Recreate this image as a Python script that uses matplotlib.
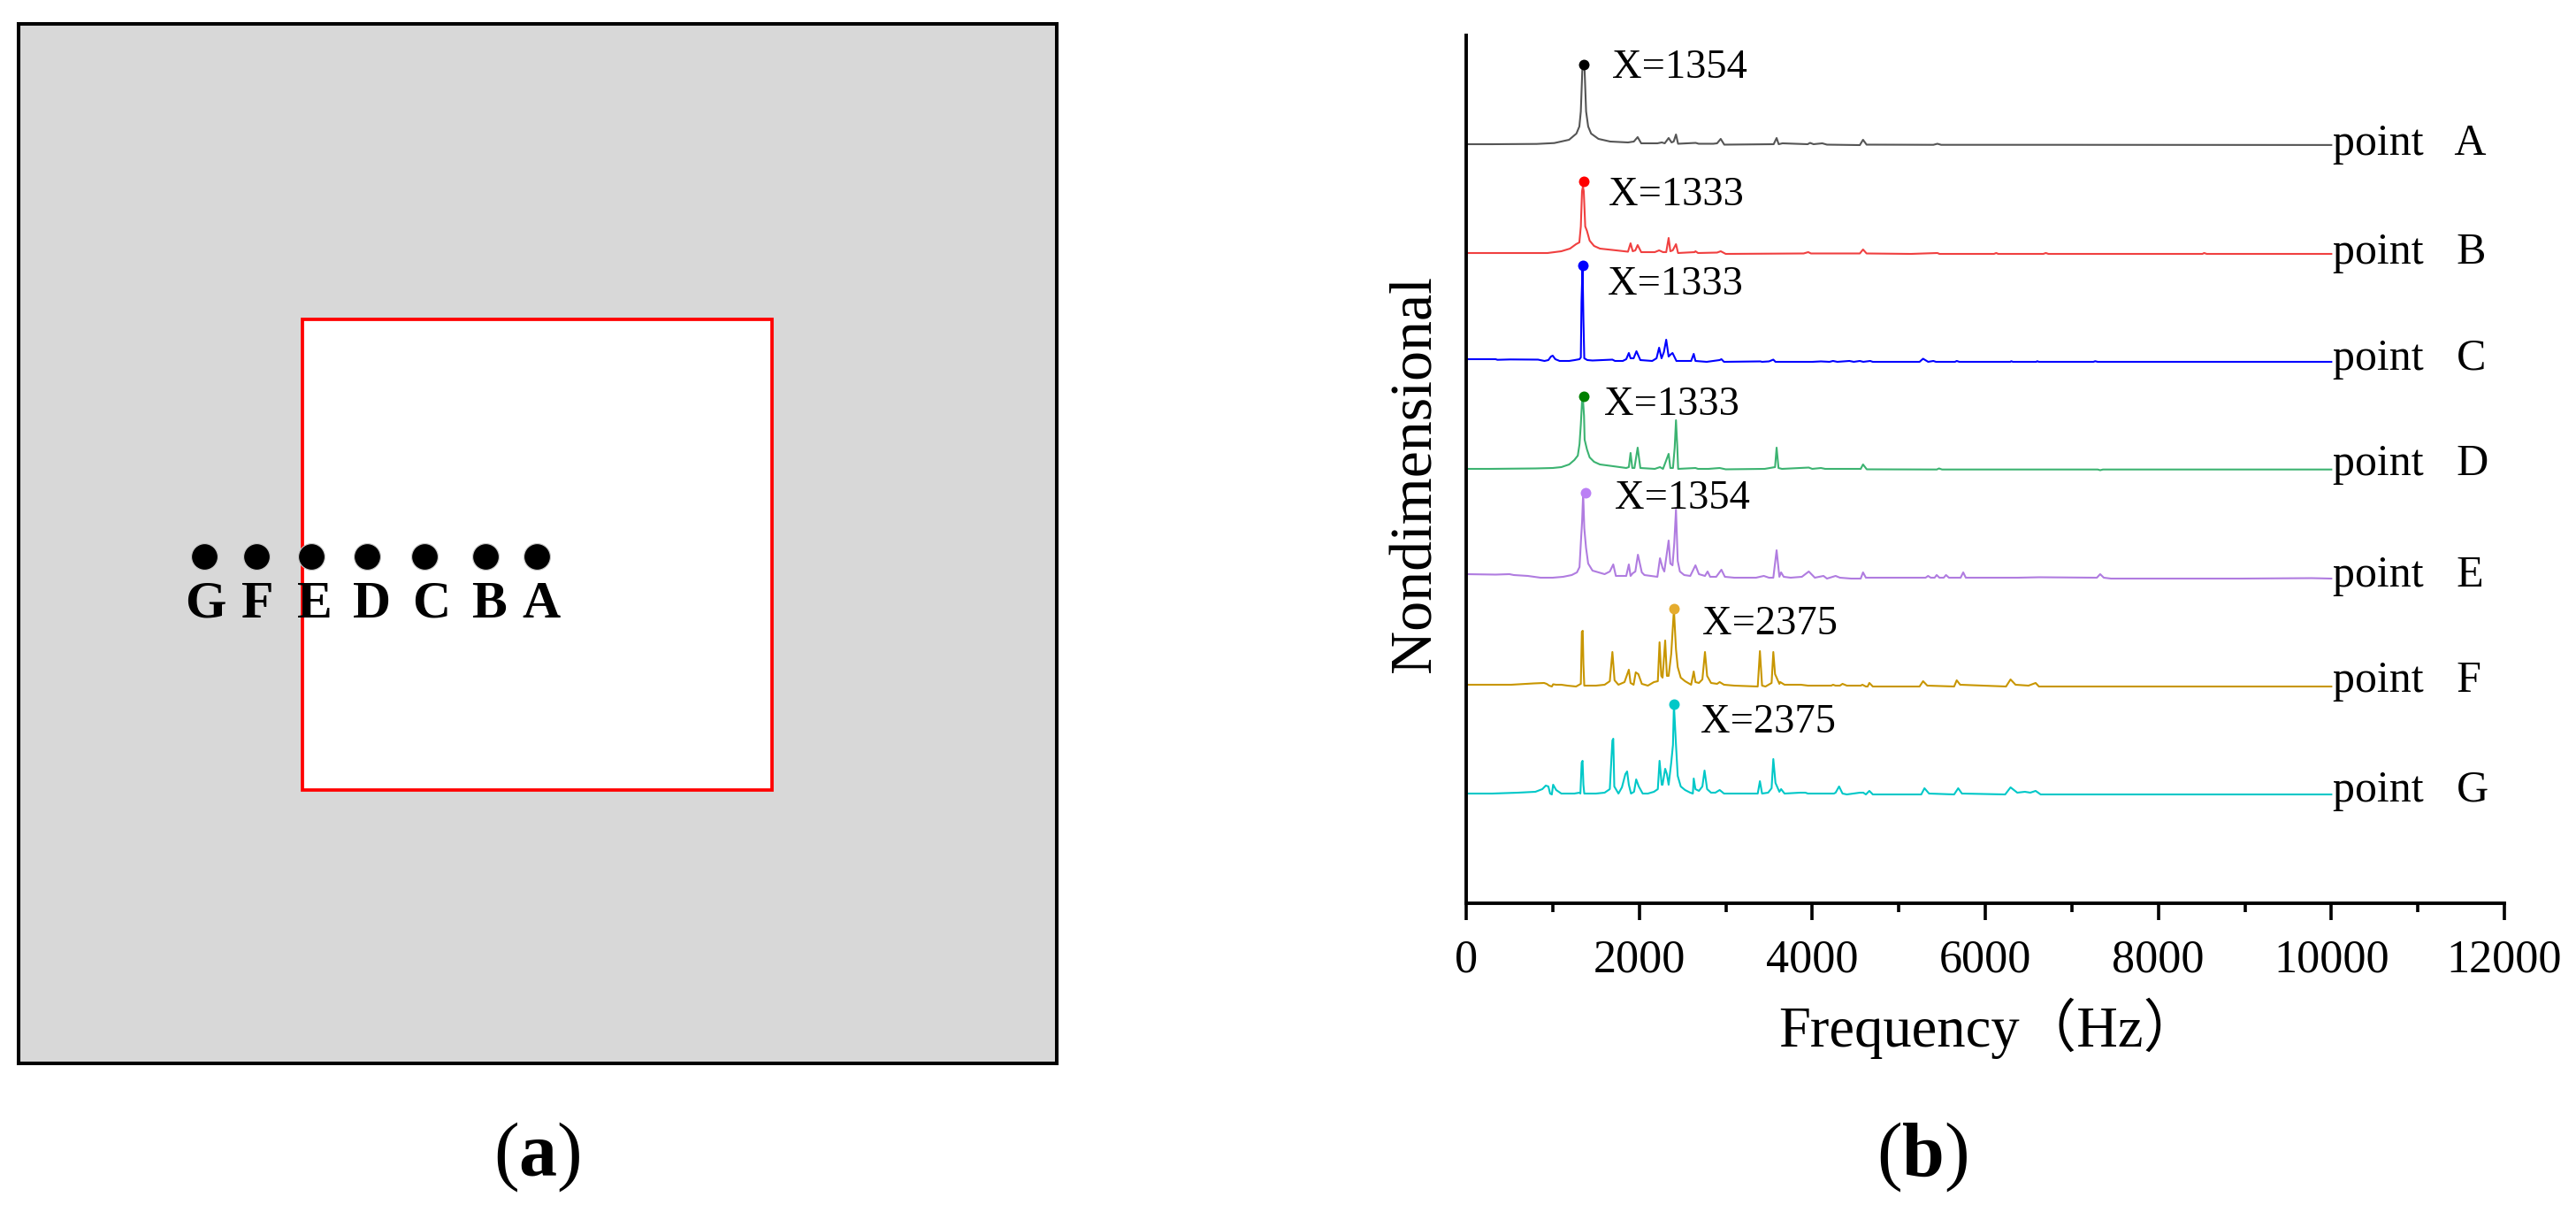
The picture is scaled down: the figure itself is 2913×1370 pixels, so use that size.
import matplotlib
matplotlib.use('Agg')
import matplotlib.pyplot as plt
from matplotlib.patches import Rectangle
import numpy as np

W, H = 2913, 1370

plt.rcParams['font.family'] = ['Liberation Serif', 'Noto Sans CJK SC']
plt.rcParams['mathtext.fontset'] = 'custom'
plt.rcParams['mathtext.rm'] = 'Liberation Serif'
plt.rcParams['mathtext.bf'] = 'Liberation Serif:bold'

# panel a, measuring points
point_names = ['G', 'F', 'E', 'D', 'C', 'B', 'A']
dot_x = [231, 290, 352, 415, 480, 549, 607]
letter_x = [232, 291, 356, 421, 488, 553, 612]

# panel b, spectra as (frequency Hz, amplitude above the baseline)
spec_a = [(0, 0), (300, 0), (814, 0.3), (1018, 1.3), (1189, 5), (1274, 12), (1308, 20), (1325, 37),
          (1342, 83), (1352, 90), (1369, 83), (1386, 37), (1410, 20), (1444, 12), (1529, 6), (1665, 3),
          (1870, 2), (1938, 3), (1982, 8), (2023, 1), (2210, 1), (2261, 2), (2295, 1), (2340, 7),
          (2374, 2), (2398, 3), (2425, 11), (2449, 0.5), (2653, 1.5), (2687, 0.5), (2857, 0.5), (2900, 1),
          (2942, 6), (2983, -0.5), (3554, 0), (3588, 7), (3612, 0), (3656, 1), (3947, 0), (3974, 1.5),
          (4015, 0), (4116, 1), (4170, -0.5), (4550, -1), (4587, 5), (4628, -0.5), (5400, -0.7), (5447, 0.5),
          (5490, -0.7), (6800, -0.7), (10000, -0.9)]

spec_b = [(0, 0), (940, 0), (1100, 2), (1200, 5), (1270, 10), (1308, 12), (1325, 30), (1339, 70),
          (1349, 75), (1359, 70), (1376, 30), (1396, 25), (1427, 14), (1478, 8), (1546, 5), (1733, 3),
          (1870, 1.5), (1900, 11), (1925, 2), (1955, 3), (1982, 9), (2023, 1), (2180, 1), (2230, 3),
          (2275, 1), (2312, 1), (2340, 17), (2360, 2), (2387, 3), (2425, 10), (2449, 0), (2640, 1),
          (2650, 2), (2680, 0), (2900, 0.5), (2942, 2), (3000, -1), (3900, -0.5), (3954, 1), (3985, -0.5),
          (4550, -0.5), (4587, 4), (4628, -0.5), (5140, -1), (5447, 0), (5470, -1), (6100, -1), (6127, 0),
          (6150, -1), (6670, -1), (6700, 0), (6730, -1), (8510, -1), (8530, 0), (8560, -1), (10000, -1)]

spec_c = [(0, 0), (340, 0), (361, -0.7), (510, -0.3), (830, -0.5), (905, -2), (950, -1), (980, 3),
          (1000, 4), (1030, 0), (1080, -2), (1190, -2), (1255, -1), (1310, 0), (1325, 2), (1333, 65),
          (1345, 106), (1355, 45), (1365, 1), (1400, -1), (1460, -1.5), (1690, -0.5), (1720, -2), (1810, -2),
          (1850, 0), (1880, 7), (1900, 1), (1935, 1), (1968, 9), (2013, -1), (2150, -2), (2200, 1),
          (2230, 13), (2258, 1), (2285, 8), (2312, 22), (2340, 3), (2360, 5), (2385, 7), (2410, 2),
          (2430, -2), (2600, -2), (2630, 6), (2650, -2), (2780, -3), (2930, -1), (2950, 0), (2980, -3),
          (3400, -2.5), (3420, -3), (3500, -2.5), (3550, -0.5), (3575, -3), (4000, -3), (4100, -2.5),
          (4200, -3), (4240, -2), (4290, -3), (4430, -2), (4480, -3), (4550, -2), (4590, -3), (4670, -2),
          (4700, -3), (5240, -3), (5281, 0.5), (5340, -3), (5400, -2), (5430, -3), (5650, -3), (5670, -2),
          (5700, -3), (6290, -3), (6300, -2.3), (6320, -3), (6590, -3), (6600, -2.3), (6620, -3),
          (7250, -3), (7270, -2.3), (7300, -3), (10000, -3)]

spec_d = [(0, 0), (270, 0), (800, 0.5), (1000, 1), (1100, 2), (1190, 5), (1250, 10), (1290, 15),
          (1310, 28), (1325, 50), (1340, 78), (1352, 75), (1362, 60), (1369, 33), (1396, 22), (1427, 13),
          (1478, 8), (1546, 5), (1700, 3), (1850, 1), (1880, 2), (1900, 18), (1920, 1), (1945, 1),
          (1982, 24), (2013, 1), (2180, 0), (2240, 2), (2275, 0), (2340, 17), (2360, 1), (2390, 1),
          (2410, 24), (2425, 55), (2440, 25), (2450, 0), (2650, 1), (2680, 0), (2800, 0), (2930, 1),
          (3000, -0.5), (3450, 0), (3570, 2), (3588, 24), (3610, 1), (3650, 0), (3960, 1.5), (4000, 0),
          (4100, 1), (4150, 0), (4560, 0), (4587, 5), (4630, -0.5), (5440, -0.7), (5465, 0.5), (5500, -0.7),
          (7300, -0.7), (7328, -1.5), (7360, -0.7), (10000, -0.7)]

spec_e = [(0, 0), (340, -0.5), (500, 0), (550, -1), (712, -2), (860, -4), (1000, -4), (1120, -3),
          (1220, -1), (1280, 2), (1310, 8), (1325, 35), (1340, 60), (1352, 92), (1365, 52), (1385, 30),
          (1410, 12), (1460, 4), (1530, 2), (1600, 0), (1660, 3), (1700, 11), (1730, -2), (1850, -2),
          (1880, 11), (1900, -2), (1925, 1), (1955, 3), (1985, 22), (2030, 2), (2060, -1), (2210, -3),
          (2240, 18), (2270, 7), (2290, 3), (2340, 38), (2360, 12), (2385, 10), (2405, 35), (2425, 73),
          (2445, 15), (2470, 3), (2520, -1), (2590, -2), (2650, 10), (2690, 0), (2760, -2), (2790, 3),
          (2820, -3), (2890, -3), (2950, 5), (2990, -3), (3100, -4), (3350, -4), (3440, -2), (3500, -4),
          (3550, -4), (3588, 27), (3620, -3), (3640, 2), (3670, -3), (3750, -4), (3880, -3), (3960, 3),
          (4030, -4), (4130, -2), (4170, -5), (4270, -2), (4320, -4), (4450, -5), (4560, -5), (4587, 2),
          (4620, -4), (5310, -4), (5339, -2), (5370, -4), (5415, -4), (5438, -1), (5470, -4), (5520, -4),
          (5546, -1), (5580, -4), (5715, -4), (5745, 2), (5775, -4), (6375, -4), (6624, -3.5), (7290, -4),
          (7328, 0), (7370, -4), (7453, -5), (8945, -5), (9774, -4.5), (10000, -5)]

spec_f = [(0, 0), (520, 0), (780, 1.5), (900, 2), (930, 1), (960, -1), (990, -2), (1005, 0.5),
          (1040, 0), (1100, 0), (1170, -1), (1270, -2), (1325, 1), (1337, 60), (1347, 61), (1355, 23),
          (1365, -1), (1500, -1), (1600, 0), (1660, 4), (1690, 37), (1715, 5), (1760, 0), (1830, 3),
          (1880, 17), (1900, 2), (1935, 0), (1960, 14), (1990, 12), (2030, 1), (2100, -1), (2170, 3),
          (2215, 4), (2235, 48), (2255, 10), (2270, 8), (2300, 50), (2320, 10), (2340, 10), (2370, 35),
          (2401, 85), (2425, 40), (2445, 20), (2480, 8), (2530, 4), (2600, 0), (2630, 15), (2650, 3),
          (2690, 2), (2730, 6), (2760, 37), (2785, 10), (2830, 2), (2900, 1), (2930, 3), (2980, 0),
          (3100, -1), (3370, -2), (3395, 38), (3420, -1), (3460, -2), (3530, 2), (3550, 37), (3570, 12),
          (3620, 1), (3630, 3), (3680, 0), (3870, 0), (3950, -1), (4220, -1), (4240, 0), (4270, -1),
          (4320, -1), (4350, 1), (4400, -1), (4560, -1), (4580, 0), (4620, -2), (4640, -2), (4660, 2),
          (4700, -2), (5240, -2), (5281, 4), (5330, -1), (5640, -2), (5670, 5), (5710, 0), (6240, -2),
          (6292, 6), (6350, 0), (6500, -1), (6582, 2), (6620, -2), (7000, -2), (10000, -2)]

spec_g = [(0, 0), (300, 0), (600, 1), (800, 2), (880, 5), (920, 9), (950, 8), (970, 0), (990, -1),
          (1005, 10), (1040, 4), (1100, 0), (1250, 0), (1310, 1), (1320, 0), (1335, 35), (1345, 37),
          (1355, 10), (1365, 0), (1500, 0), (1600, 1), (1660, 5), (1690, 60), (1700, 62), (1712, 8),
          (1760, 0), (1800, 7), (1840, 22), (1860, 25), (1880, 10), (1905, 0), (1940, 2), (1965, 16),
          (1995, 8), (2040, 0), (2100, 0), (2170, 2), (2215, 5), (2235, 37), (2260, 10), (2270, 10),
          (2300, 28), (2320, 22), (2340, 10), (2370, 35), (2390, 55), (2401, 101), (2425, 55), (2445, 20),
          (2480, 8), (2530, 4), (2590, 1), (2620, 0), (2630, 17), (2650, 5), (2690, 3), (2730, 8),
          (2755, 26), (2785, 5), (2830, 1), (2880, 1), (2930, 4), (2980, 0), (3100, 0), (3370, 0),
          (3395, 14), (3420, 0), (3490, 1), (3530, 6), (3550, 39), (3575, 12), (3620, 2), (3640, 5),
          (3680, 0), (3860, 1), (3920, 1), (3950, 0), (4250, 0), (4270, 1), (4310, 8), (4350, 0),
          (4400, -1), (4550, 1), (4590, 1), (4620, -1), (4660, 3), (4700, -1), (5260, -1), (5297, 6),
          (5350, 0), (5640, -1), (5687, 6), (5730, 0), (6230, -1), (6292, 7), (6370, 1), (6458, 2),
          (6520, 1), (6582, 3), (6640, -1), (10000, -1)]

spectra = [spec_a, spec_b, spec_c, spec_d, spec_e, spec_f, spec_g]
baselines = [858, 735, 615, 491, 372, 247, 124]
line_colors = ['#555555', '#F04040', '#0000FF', '#3CB371', '#B07CE0', '#C89600', '#00C8C8']
dot_colors = ['#000000', '#FF0000', '#0000FF', '#008000', '#BB80F5', '#E5AC2E', '#00C8C8']

peak_hz = [1358, 1358, 1348, 1358, 1379, 2401, 2401]
peak_top = [948, 816, 721, 573, 464, 333, 225]
peak_text = ['X=1354', 'X=1333', 'X=1333', 'X=1333', 'X=1354', 'X=2375', 'X=2375']
text_hz = [1685, 1644, 1634, 1593, 1716, 2727, 2707]
text_y = [933, 789, 688, 552, 446, 304, 193]

curve_names = ['point   A', 'point   B', 'point   C', 'point   D', 'point   E', 'point   F', 'point   G']
curve_name_y = [846, 723, 603, 484, 358, 239, 115]

fig = plt.figure(figsize=(W / 100, H / 100), dpi=100)

# (a)
ax_a = fig.add_axes([21 / W, 1 - 1202 / H, 1174 / W, 1175 / H])
ax_a.set_xlim(21, 1195)
ax_a.set_ylim(1202, 27)
ax_a.set_facecolor('#D8D8D8')
ax_a.set_xticks([])
ax_a.set_yticks([])
for s in ax_a.spines.values():
    s.set_linewidth(2.9)
ax_a.add_patch(Rectangle((342, 361), 531, 532, facecolor='white', edgecolor='#FF0000', linewidth=2.7))
ax_a.plot(dot_x, [629] * len(dot_x), 'o', color='black', markeredgecolor='#C8C8C8',
          markeredgewidth=0.8, markersize=21.5, linestyle='none')
for name, x in zip(point_names, letter_x):
    ax_a.text(x, 698, name, ha='center', va='baseline', fontsize=43, fontweight='bold')

# (b)
ax_b = fig.add_axes([1658 / W, 1 - 1021 / H, 1174 / W, 981 / H])
ax_b.set_xlim(0, 12000)
ax_b.set_ylim(0, 981)
ax_b.spines['top'].set_visible(False)
ax_b.spines['right'].set_visible(False)
ax_b.spines['left'].set_linewidth(2.8)
ax_b.spines['bottom'].set_linewidth(2.8)
ax_b.set_yticks([])
ax_b.set_xticks(np.arange(0, 12001, 2000))
ax_b.set_xticks(np.arange(1000, 12000, 2000), minor=True)
ax_b.tick_params(axis='x', which='major', length=14, width=2.6, labelsize=37.5, pad=15)
ax_b.tick_params(axis='x', which='minor', length=7, width=2.6)

for i, spec in enumerate(spectra):
    pts = np.array(spec, dtype=float)
    ax_b.plot(pts[:, 0], pts[:, 1] + baselines[i], color=line_colors[i], lw=1.5)
    ax_b.plot([peak_hz[i]], [peak_top[i]], 'o', color=dot_colors[i], markersize=8.6,
              markeredgewidth=0, clip_on=False)
    ax_b.text(text_hz[i], text_y[i], peak_text[i], fontsize=33.5, ha='left', va='baseline')
    ax_b.text(10020, curve_name_y[i], curve_names[i], fontsize=36, ha='left', va='baseline')

fig.text(2011 / W, 1 - 1183 / H, 'Frequency（Hz）', fontsize=46.5, ha='left', va='baseline')
fig.text(1618 / W, 1 - 535 / H, 'Nondimensional', fontsize=49, rotation=90, rotation_mode='anchor',
         ha='center', va='baseline')

fig.text(607 / W, 1 - 1329 / H, r'($\mathbf{a}$)', fontsize=62, ha='center', va='baseline')
fig.text(2174 / W, 1 - 1329 / H, r'($\mathbf{b}$)', fontsize=62, ha='center', va='baseline')

fig.savefig('out.png', dpi=100)
